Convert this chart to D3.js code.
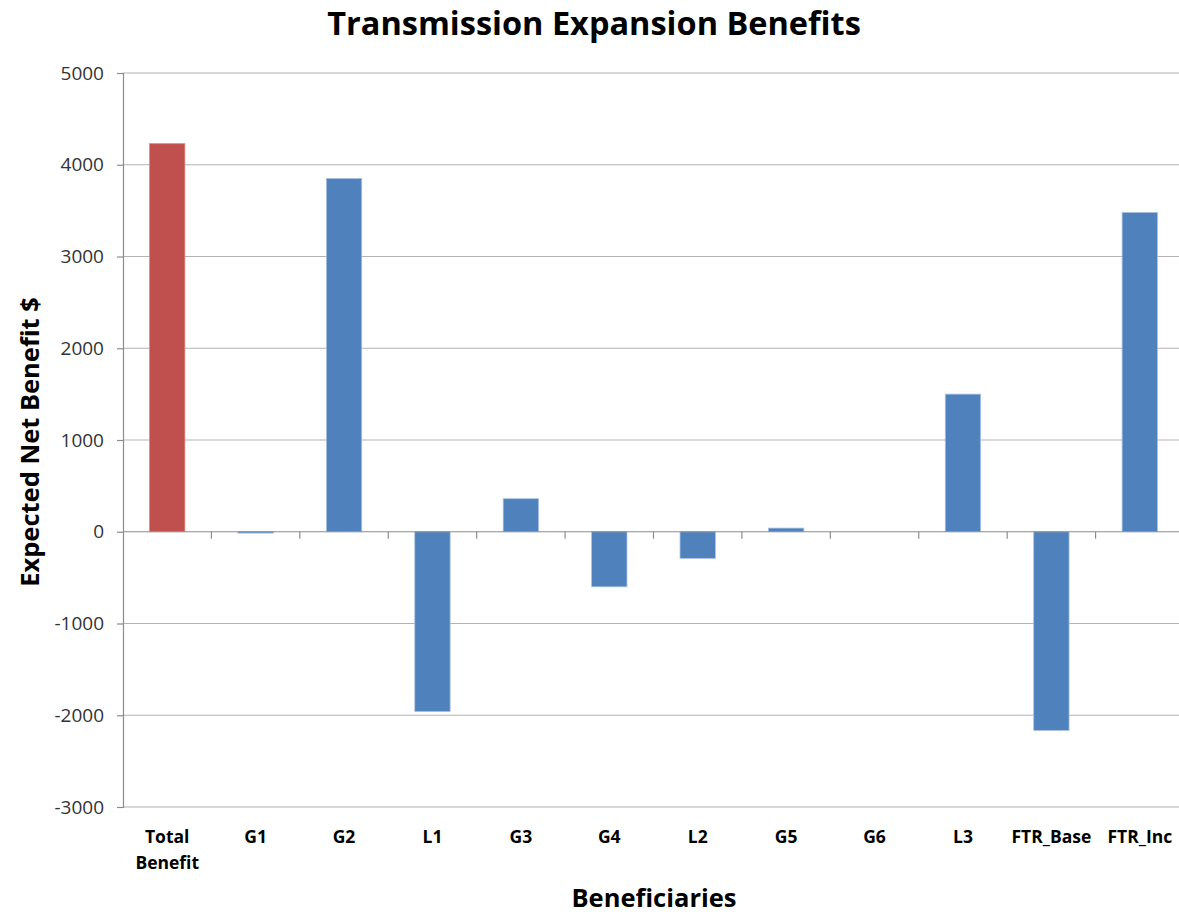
<!DOCTYPE html>
<html>
<head>
<meta charset="utf-8">
<script src="https://cdn.jsdelivr.net/npm/d3@7"></script>
<style>
  body { margin: 0; background: #fff; }
  svg { display: block; }
</style>
</head>
<body>
<svg id="chart" width="1179" height="914"></svg>
<script>
// Categories and values
const beneficiaries = ["Total Benefit", "G1", "G2", "L1", "G3", "G4", "L2", "G5", "G6", "L3", "FTR_Base", "FTR_Inc"];
const netBenefit = [4230, -15, 3850, -1960, 360, -600, -290, 40, 0, 1500, -2165, 3480];
const yTicks = [-3000, -2000, -1000, 0, 1000, 2000, 3000, 4000, 5000];

const data = beneficiaries.map((name, i) => ({ name, value: netBenefit[i] }));

const svg = d3.select("#chart");
const plotLeft = 123, plotRight = 1184, plotTop = 73, plotBottom = 807;
const font = "'Open Sans', 'Noto Sans', sans-serif";

const x = d3.scaleBand()
    .domain(beneficiaries)
    .range([plotLeft, plotRight])
    .paddingInner(0.6)
    .paddingOuter(0.3);

// same band, no padding: used for the category boundary ticks
const xBand = d3.scaleBand().domain(beneficiaries).range([plotLeft, plotRight]);

const y = d3.scaleLinear()
    .domain([-3000, 5000])
    .range([plotBottom, plotTop]);

// Horizontal gridlines
svg.append("g")
    .selectAll("line")
    .data(yTicks.filter(d => d !== 0))
    .enter().append("line")
    .attr("x1", plotLeft)
    .attr("x2", plotRight)
    .attr("y1", d => y(d))
    .attr("y2", d => y(d))
    .attr("stroke", "#b3b3b3")
    .attr("stroke-width", 1.2);

// Y axis (plain hyphen for negatives, like the original)
const yAxis = svg.append("g")
    .attr("transform", `translate(${plotLeft},0)`)
    .call(d3.axisLeft(y).tickValues(yTicks).tickSize(6).tickPadding(13).tickFormat(d => String(d)));
yAxis.select(".domain").attr("stroke", "#8c8c8c").attr("stroke-width", 1.2);
yAxis.selectAll(".tick line").attr("stroke", "#8c8c8c").attr("stroke-width", 1.2);
yAxis.selectAll(".tick text")
    .attr("font-family", font)
    .attr("font-size", "19px")
    .attr("fill", "#333");

// Bars
svg.append("g")
    .selectAll("rect")
    .data(data)
    .enter().append("rect")
    .attr("x", d => x(d.name))
    .attr("width", x.bandwidth())
    .attr("y", d => y(Math.max(0, d.value)))
    .attr("height", d => Math.abs(y(d.value) - y(0)))
    .attr("fill", (d, i) => i === 0 ? "#C0504D" : "#4F81BD")
    .attr("stroke", (d, i) => i === 0 ? "#d98c8a" : "#a9c0e0")
    .attr("stroke-width", 0.8);

// Zero line with category boundary ticks
svg.append("line")
    .attr("x1", plotLeft)
    .attr("x2", plotRight)
    .attr("y1", y(0))
    .attr("y2", y(0))
    .attr("stroke", "#8c8c8c")
    .attr("stroke-width", 1.2);

svg.append("g")
    .selectAll("line")
    .data(beneficiaries.slice(1))
    .enter().append("line")
    .attr("x1", d => xBand(d))
    .attr("x2", d => xBand(d))
    .attr("y1", y(0))
    .attr("y2", y(0) + 7)
    .attr("stroke", "#8c8c8c")
    .attr("stroke-width", 1.2);

// Category labels (split "Total Benefit" onto two lines)
const catLabels = svg.append("g")
    .selectAll("text")
    .data(beneficiaries)
    .enter().append("text")
    .attr("x", d => xBand(d) + xBand.bandwidth() / 2)
    .attr("y", 843)
    .attr("text-anchor", "middle")
    .attr("font-family", font)
    .attr("font-size", "17.5px")
    .attr("font-weight", "bold")
    .attr("fill", "#000");

catLabels.each(function(d) {
    const words = d === "Total Benefit" ? d.split(" ") : [d];
    const t = d3.select(this);
    words.forEach((w, i) => {
        t.append("tspan")
            .attr("x", xBand(d) + xBand.bandwidth() / 2)
            .attr("dy", i === 0 ? 0 : 26)
            .text(w);
    });
});

// Title
svg.append("text")
    .attr("x", 594)
    .attr("y", 35)
    .attr("text-anchor", "middle")
    .attr("font-family", font)
    .attr("font-size", "32.5px")
    .attr("font-weight", "bold")
    .text("Transmission Expansion Benefits");

// Axis titles
svg.append("text")
    .attr("x", 654)
    .attr("y", 907)
    .attr("text-anchor", "middle")
    .attr("font-family", font)
    .attr("font-size", "25.5px")
    .attr("font-weight", "bold")
    .text("Beneficiaries");

svg.append("text")
    .attr("transform", `translate(39, 442) rotate(-90)`)
    .attr("text-anchor", "middle")
    .attr("font-family", font)
    .attr("font-size", "25.5px")
    .attr("font-weight", "bold")
    .text("Expected Net Benefit $");
</script>
</body>
</html>
